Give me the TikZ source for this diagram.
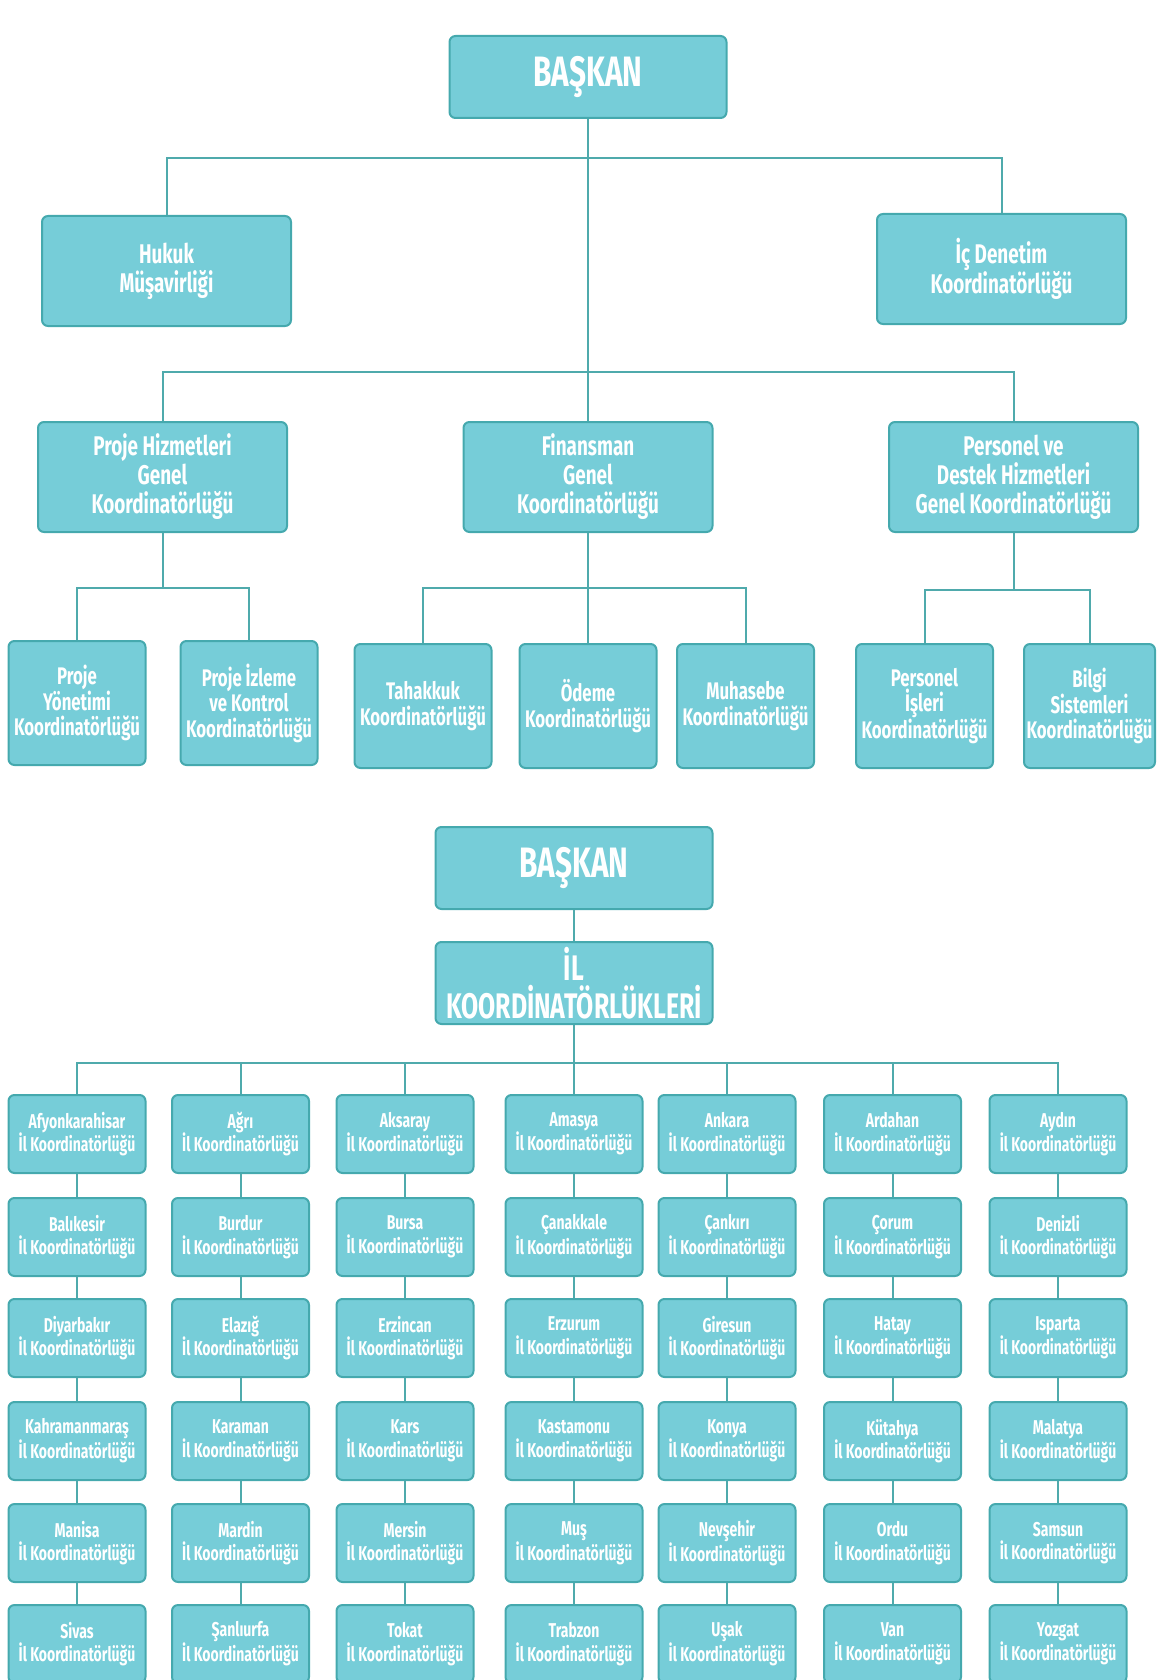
\documentclass[tikz,border=0pt]{standalone}
\usepackage{fontspec}
\setmainfont{Fira Sans}[FakeStretch=0.7]
\definecolor{kutuic}{HTML}{76CDD8}
\definecolor{kutukenar}{HTML}{45A9AE}
\definecolor{hatrenk}{HTML}{4FAAAC}
\tikzset{
    kutu/.style={draw=kutukenar, fill=kutuic, line width=2pt, rounded corners=6pt,
        text=white, align=center, inner sep=0pt},
    buyuk/.style={kutu, minimum width=277pt, minimum height=82pt, font=\bfseries\fontsize{42.5}{38}\selectfont},
    orta/.style={kutu, minimum width=249pt, minimum height=110pt, font=\bfseries\fontsize{27}{29}\selectfont},
    kucuk/.style={kutu, minimum width=137pt, minimum height=124pt, font=\bfseries\fontsize{24}{25.5}\selectfont},
    ilkutu/.style={kutu, minimum width=137pt, minimum height=78pt, font=\bfseries\fontsize{20}{23.5}\selectfont},
    hat/.style={draw=hatrenk, line width=2pt}
}
\begin{document}
\begin{tikzpicture}[x=1pt, y=-1pt]
    \useasboundingbox (0,0) rectangle (1159,1680);

    % merkez teskilati
    \node[buyuk] (baskan) at (588,77) {BAŞKAN};
    \node[orta] (hukuk) at (166.5,271) {Hukuk\\Müşavirliği};
    \node[orta] (icdenetim) at (1001.5,269) {İç Denetim\\Koordinatörlüğü};
    \node[orta] (projehiz) at (162.5,477) {Proje Hizmetleri\\Genel\\Koordinatörlüğü};
    \node[orta] (finansman) at (588,477) {Finansman\\Genel\\Koordinatörlüğü};
    \node[orta] (personel) at (1013.5,477) {Personel ve\\Destek Hizmetleri\\Genel Koordinatörlüğü};

    \node[kucuk] (pyon) at (77,703) {Proje\\Yönetimi\\Koordinatörlüğü};
    \node[kucuk] (pizl) at (249,703) {Proje İzleme\\ve Kontrol\\Koordinatörlüğü};
    \node[kucuk] (tah) at (423,706) {Tahakkuk\\Koordinatörlüğü};
    \node[kucuk] (ode) at (588,706) {Ödeme\\Koordinatörlüğü};
    \node[kucuk] (muh) at (745.5,706) {Muhasebe\\Koordinatörlüğü};
    \node[kucuk] (pis) at (924.5,706) {Personel\\İşleri\\Koordinatörlüğü};
    \node[kucuk, minimum width=131pt] (bilgi) at (1089.5,706) {Bilgi\\Sistemleri\\Koordinatörlüğü};

    \coordinate (k1) at (588,158.5);
    \coordinate (k2) at (588,371.5);
    \coordinate (k3) at (162.5,588);
    \coordinate (k4) at (588,588);
    \coordinate (k5) at (1013.5,590);

    \draw[hat] (baskan.south) -- (finansman.north);
    \draw[hat] (hukuk.north) |- (k1) -| (icdenetim.north);
    \draw[hat] (projehiz.north) |- (k2) -| (personel.north);
    \draw[hat] (projehiz.south) -- (k3);
    \draw[hat] (pyon.north) |- (k3) -| (pizl.north);
    \draw[hat] (finansman.south) -- (ode.north);
    \draw[hat] (tah.north) |- (k4) -| (muh.north);
    \draw[hat] (personel.south) -- (k5);
    \draw[hat] (pis.north) |- (k5) -| (bilgi.north);

    % il koordinatorlukleri
    \node[buyuk] (baskan2) at (574,868) {BAŞKAN};
    \node[buyuk, font=\bfseries\fontsize{35.5}{38}\selectfont] (ilk) at (574,983) {İL\\KOORDİNATÖRLÜKLERİ};
    \coordinate (k6) at (574,1062.5);
    \draw[hat] (baskan2.south) -- (ilk.north);
    \draw[hat] (ilk.south) -- (k6);

    \foreach \satir [count=\j] in {
        {Afyonkarahisar,Ağrı,Aksaray,Amasya,Ankara,Ardahan,Aydın},
        {Balıkesir,Burdur,Bursa,Çanakkale,Çankırı,Çorum,Denizli},
        {Diyarbakır,Elazığ,Erzincan,Erzurum,Giresun,Hatay,Isparta},
        {Kahramanmaraş,Karaman,Kars,Kastamonu,Konya,Kütahya,Malatya},
        {Manisa,Mardin,Mersin,Muş,Nevşehir,Ordu,Samsun},
        {Sivas,Şanlıurfa,Tokat,Trabzon,Uşak,Van,Yozgat}}{
        \foreach \ad [count=\i] in \satir {
            \pgfmathsetmacro{\ix}{{77,240.5,405,574,727,892.5,1058}[\i-1]}
            \pgfmathsetmacro{\iy}{{1134,1237,1338,1441,1543,1644}[\j-1]}
            \node[ilkutu] (il-\i-\j) at (\ix,\iy) {\ad\\İl Koordinatörlüğü};
        }
    }
    \foreach \i in {1,...,7}{
        \draw[hat] (il-\i-1.north) |- (k6);
        \foreach \j [evaluate=\j as \k using int(\j+1)] in {1,...,5}
            \draw[hat] (il-\i-\j.south) -- (il-\i-\k.north);
    }
\end{tikzpicture}
\end{document}
